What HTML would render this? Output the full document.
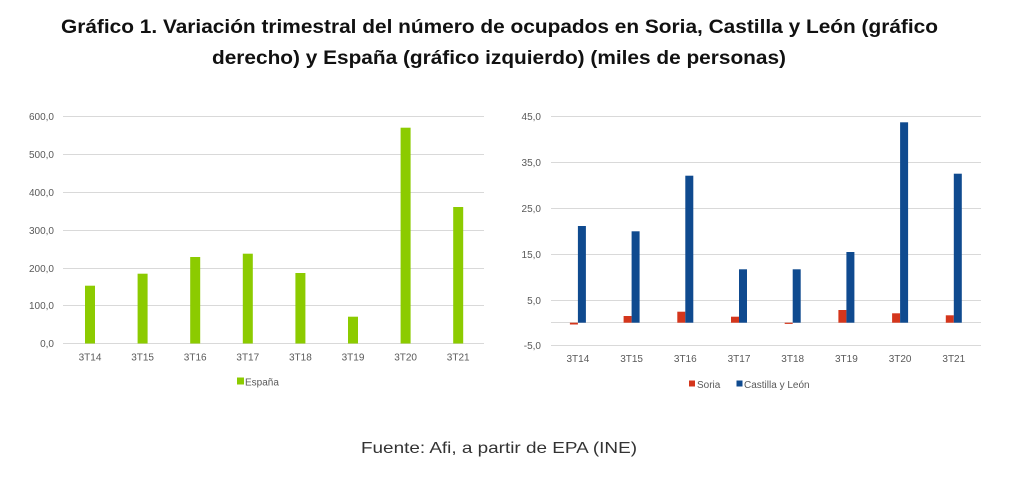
<!DOCTYPE html>
<html>
<head>
<meta charset="utf-8">
<style>
html,body{margin:0;padding:0;background:#fff;}
svg{display:block;}
</style>
</head>
<body>
<svg width="1017" height="480" viewBox="0 0 1017 480" xmlns="http://www.w3.org/2000/svg" font-family="Liberation Sans, DejaVu Sans, sans-serif">
<rect width="1017" height="480" fill="#fff"/>
<!-- Title -->
<text x="61" y="33" font-size="19" font-weight="bold" fill="#111" textLength="877" lengthAdjust="spacingAndGlyphs">Gráfico 1. Variación trimestral del número de ocupados en Soria, Castilla y León (gráfico</text>
<text x="212" y="64" font-size="19" font-weight="bold" fill="#111" textLength="574" lengthAdjust="spacingAndGlyphs">derecho) y España (gráfico izquierdo) (miles de personas)</text>

<!-- LEFT CHART -->
<g stroke="#d9d9d9" stroke-width="1">
<line x1="63" y1="116.5" x2="484" y2="116.5"/>
<line x1="63" y1="154.5" x2="484" y2="154.5"/>
<line x1="63" y1="192.5" x2="484" y2="192.5"/>
<line x1="63" y1="230.5" x2="484" y2="230.5"/>
<line x1="63" y1="268.5" x2="484" y2="268.5"/>
<line x1="63" y1="305.5" x2="484" y2="305.5"/>
<line x1="63" y1="343.5" x2="484" y2="343.5"/>
</g>
<g font-size="10" fill="#595959" text-anchor="end">
<text x="54" y="120">600,0</text>
<text x="54" y="158">500,0</text>
<text x="54" y="196">400,0</text>
<text x="54" y="234">300,0</text>
<text x="54" y="272">200,0</text>
<text x="54" y="309">100,0</text>
<text x="54" y="347">0,0</text>
</g>
<g fill="#8CCB00">
<rect x="85" y="285.7" width="10" height="57.8"/>
<rect x="137.6" y="273.7" width="10" height="69.8"/>
<rect x="190.2" y="257" width="10" height="86.5"/>
<rect x="242.8" y="253.7" width="10" height="89.8"/>
<rect x="295.4" y="273" width="10" height="70.5"/>
<rect x="348" y="316.7" width="10" height="26.8"/>
<rect x="400.6" y="127.7" width="10" height="215.8"/>
<rect x="453.2" y="207" width="10" height="136.5"/>
</g>
<g font-size="10" fill="#595959" text-anchor="middle">
<text x="90" y="360.5">3T14</text>
<text x="142.6" y="360.5">3T15</text>
<text x="195.2" y="360.5">3T16</text>
<text x="247.8" y="360.5">3T17</text>
<text x="300.4" y="360.5">3T18</text>
<text x="353" y="360.5">3T19</text>
<text x="405.6" y="360.5">3T20</text>
<text x="458.2" y="360.5">3T21</text>
</g>
<rect x="237" y="377.5" width="7" height="7" fill="#8CCB00"/>
<text x="245" y="385.5" font-size="10" fill="#595959">España</text>

<!-- RIGHT CHART -->
<g stroke="#d9d9d9" stroke-width="1">
<line x1="551" y1="116.5" x2="981" y2="116.5"/>
<line x1="551" y1="162.5" x2="981" y2="162.5"/>
<line x1="551" y1="208.5" x2="981" y2="208.5"/>
<line x1="551" y1="254.5" x2="981" y2="254.5"/>
<line x1="551" y1="300.5" x2="981" y2="300.5"/>
<line x1="551" y1="322.5" x2="981" y2="322.5"/>
<line x1="551" y1="345.5" x2="981" y2="345.5"/>
</g>
<g font-size="10" fill="#595959" text-anchor="end">
<text x="541" y="120">45,0</text>
<text x="541" y="166">35,0</text>
<text x="541" y="212">25,0</text>
<text x="541" y="258">15,0</text>
<text x="541" y="304">5,0</text>
<text x="541" y="349">-5,0</text>
</g>
<g fill="#D4361C">
<rect x="569.9" y="322.7" width="8" height="1.8"/>
<rect x="623.6" y="316" width="8" height="6.7"/>
<rect x="677.3" y="311.7" width="8" height="11"/>
<rect x="731" y="316.7" width="8" height="6"/>
<rect x="784.7" y="322.7" width="8" height="1.2"/>
<rect x="838.4" y="310" width="8" height="12.7"/>
<rect x="892.1" y="313.3" width="8" height="9.4"/>
<rect x="945.8" y="315.3" width="8" height="7.4"/>
</g>
<g fill="#0F4A8F">
<rect x="577.9" y="226" width="8" height="96.7"/>
<rect x="631.6" y="231.3" width="8" height="91.4"/>
<rect x="685.3" y="175.7" width="8" height="147"/>
<rect x="739" y="269.3" width="8" height="53.4"/>
<rect x="792.7" y="269.3" width="8" height="53.4"/>
<rect x="846.4" y="252" width="8" height="70.7"/>
<rect x="900.1" y="122.3" width="8" height="200.4"/>
<rect x="953.8" y="173.7" width="8" height="149"/>
</g>
<g font-size="10" fill="#595959" text-anchor="middle">
<text x="577.9" y="362">3T14</text>
<text x="631.6" y="362">3T15</text>
<text x="685.3" y="362">3T16</text>
<text x="739" y="362">3T17</text>
<text x="792.7" y="362">3T18</text>
<text x="846.4" y="362">3T19</text>
<text x="900.1" y="362">3T20</text>
<text x="953.8" y="362">3T21</text>
</g>
<rect x="689" y="380.5" width="6" height="6" fill="#D4361C"/>
<text x="697" y="388" font-size="10" fill="#595959">Soria</text>
<rect x="736.5" y="380.5" width="6" height="6" fill="#0F4A8F"/>
<text x="744" y="388" font-size="10" fill="#595959">Castilla y León</text>

<!-- Source -->
<text x="361" y="453" font-size="16" fill="#333" textLength="276" lengthAdjust="spacingAndGlyphs">Fuente: Afi, a partir de EPA (INE)</text>
</svg>
</body>
</html>
